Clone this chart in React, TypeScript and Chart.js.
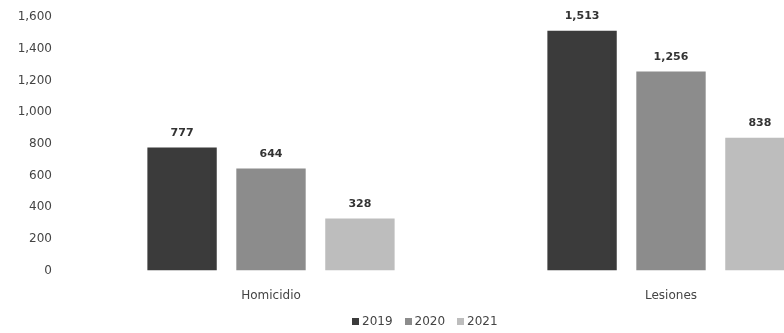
import React, { useEffect, useRef } from "react";
import { Chart, registerables } from "chart.js";

Chart.register(...registerables);

const categories = ["Homicidio", "Lesiones"];
const seriesNames = ["2019", "2020", "2021"];
const values2019 = [777, 1513];
const values2020 = [644, 1256];
const values2021 = [328, 838];
const yTicks = [0, 200, 400, 600, 800, 1000, 1200, 1400, 1600];

const colors = ["#3b3b3b", "#8c8c8c", "#bdbdbd"];
const FONT = "'DejaVu Sans', sans-serif";

const fmt = (v: number) => v.toLocaleString("en-US");

const valueLabels = {
  id: "valueLabels",
  afterDatasetsDraw(chart: any) {
    const ctx = chart.ctx;
    ctx.save();
    ctx.font = `bold 11px ${FONT}`;
    ctx.fillStyle = "#333";
    ctx.textAlign = "center";
    ctx.textBaseline = "bottom";
    chart.data.datasets.forEach((ds: any, i: number) => {
      const meta = chart.getDatasetMeta(i);
      meta.data.forEach((bar: any, j: number) => {
        ctx.fillText(fmt(ds.data[j]), bar.x, bar.y - 9);
      });
    });
    ctx.restore();
  },
};

export default function App() {
  const ref = useRef<HTMLCanvasElement>(null);
  useEffect(() => {
    const chart = new Chart(ref.current!, {
      type: "bar",
      data: {
        labels: categories,
        datasets: [values2019, values2020, values2021].map((d, i) => ({
          label: seriesNames[i],
          data: d,
          backgroundColor: colors[i],
          barPercentage: 0.78,
          categoryPercentage: 0.667,
        })),
      },
      options: {
        responsive: false,
        animation: false,
        layout: { padding: { top: 17, right: 9, left: 0, bottom: 20 } },
        plugins: { legend: { display: false }, tooltip: { enabled: false } },
        scales: {
          x: {
            grid: { display: false },
            border: { display: false },
            ticks: { color: "#444", font: { family: FONT, size: 12 }, padding: 10 },
          },
          y: {
            min: 0,
            max: 1600,
            afterFit: (s: any) => {
              s.width = 71;
              s.paddingTop = 0;
              s.paddingBottom = 0;
            },
            afterBuildTicks: (s: any) => {
              s.ticks = yTicks.map((v) => ({ value: v }));
            },
            grid: { display: false, drawTicks: false },
            border: { display: false },
            ticks: {
              color: "#444",
              font: { family: FONT, size: 12 },
              padding: 19,
              callback: (v: any) => fmt(Number(v)),
            },
          },
        },
      },
      plugins: [valueLabels],
    });
    return () => chart.destroy();
  }, []);

  return (
    <div style={{ position: "fixed", left: 0, top: 0, width: 784, height: 333, overflow: "hidden", background: "#fff" }}>
      <canvas ref={ref} width={880} height={333} style={{ position: "absolute", left: 0, top: 0 }} />
      <div
        style={{
          position: "absolute",
          left: 352,
          top: 314,
          display: "flex",
          gap: 12,
          fontFamily: FONT,
          fontSize: 12,
          color: "#444",
          alignItems: "center",
        }}
      >
        {seriesNames.map((n, i) => (
          <span key={n} style={{ display: "flex", alignItems: "center", gap: 3 }}>
            <span style={{ display: "inline-block", width: 7, height: 7, background: colors[i] }} />
            {n}
          </span>
        ))}
      </div>
    </div>
  );
}
